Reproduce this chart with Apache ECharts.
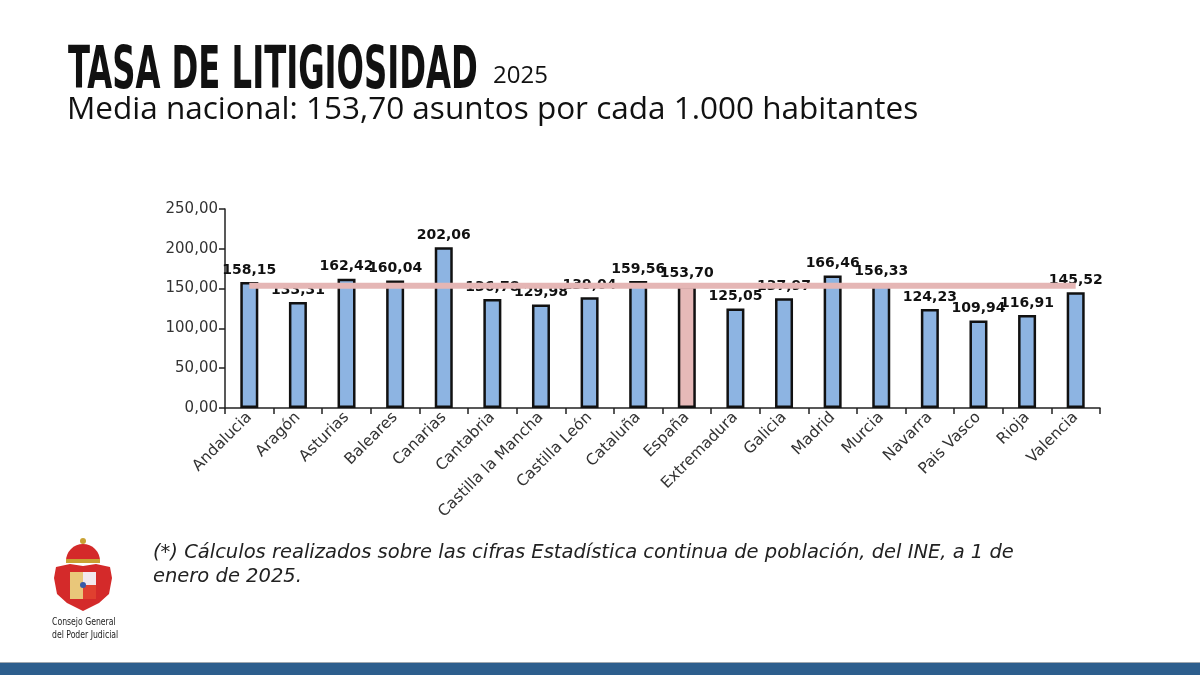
<!DOCTYPE html>
<html lang="es">
<head>
  <meta charset="utf-8">
</head>
<body style="height: 100%; margin: 0; background: #fff">
  <div id="container" style="width: 1200px; height: 675px"></div>
  <script src="https://cdn.jsdelivr.net/npm/echarts@6/dist/echarts.min.js"></script>
  <script>
    // regiones y tasa por cada 1.000 habitantes (2025)
    var regiones = ['Andalucia', 'Aragón', 'Asturias', 'Baleares', 'Canarias', 'Cantabria',
      'Castilla la Mancha', 'Castilla León', 'Cataluña', 'España', 'Extremadura', 'Galicia',
      'Madrid', 'Murcia', 'Navarra', 'Pais Vasco', 'Rioja', 'Valencia'];
    var tasas = [158.15, 133.31, 162.42, 160.04, 202.06, 136.78, 129.98, 139.04, 159.56,
      153.70, 125.05, 137.97, 166.46, 156.33, 124.23, 109.94, 116.91, 145.52];
    var mediaNacional = 153.70;
    var destacado = 'España';

    var fmt = function (v) { return v.toFixed(2).replace('.', ','); };

    var dom = document.getElementById('container');
    var myChart = echarts.init(dom, null, { renderer: 'canvas' });

    var barData = tasas.map(function (v, i) {
      return {
        value: v,
        itemStyle: { color: regiones[i] === destacado ? '#E6B9B8' : '#8DB4E2' }
      };
    });
    var mediaData = regiones.map(function () { return mediaNacional; });

    var option = {
      animation: false,
      backgroundColor: '#fff',
      grid: { left: 225, right: 100, top: 209, bottom: 267 },
      xAxis: {
        type: 'category',
        data: regiones,
        axisLine: { lineStyle: { color: '#222', width: 1.5 } },
        axisTick: { show: true, length: 6, lineStyle: { color: '#222', width: 1.5 } },
        axisLabel: {
          rotate: 45, interval: 0, margin: 7,
          fontFamily: 'DejaVu Sans', fontSize: 15.5, color: '#333'
        }
      },
      yAxis: {
        type: 'value',
        min: 0, max: 250, interval: 50,
        axisLine: { show: true, lineStyle: { color: '#222', width: 1.5 } },
        axisTick: { show: true, length: 6, lineStyle: { color: '#222', width: 1.5 } },
        splitLine: { show: false },
        axisLabel: {
          formatter: function (v) { return fmt(v); },
          fontFamily: 'DejaVu Sans', fontSize: 15, color: '#333', margin: 7
        }
      },
      series: [
        {
          type: 'bar',
          data: barData,
          barWidth: 18,
          itemStyle: { borderColor: '#111', borderWidth: 2.5 },
          label: {
            show: true, position: 'top', distance: 5,
            formatter: function (p) { return fmt(p.value); },
            fontFamily: 'DejaVu Sans', fontWeight: 'bold', fontSize: 14, color: '#111'
          },
          z: 2
        },
        {
          type: 'line',
          data: mediaData,
          symbol: 'none',
          lineStyle: { color: '#E5B6B5', width: 6 },
          z: 3
        }
      ],
      graphic: [
        {
          type: 'text', x: 68, y: 44, scaleX: 0.618,
          style: {
            text: 'TASA DE LITIGIOSIDAD', fill: '#111',
            font: 'bold 58px "DejaVu Sans Condensed", "DejaVu Sans"'
          }
        },
        {
          type: 'text', x: 493, y: 64,
          style: { text: '2025', fill: '#111', font: '24px "Open Sans"' }
        },
        {
          type: 'text', x: 67, y: 94,
          style: {
            text: 'Media nacional: 153,70 asuntos por cada 1.000 habitantes',
            fill: '#111', font: '31.5px "Open Sans"'
          }
        },
        {
          type: 'text', x: 153, y: 541,
          style: {
            text: '(*) Cálculos realizados sobre las cifras Estadística continua de población, del INE, a 1 de\nenero de 2025.',
            fill: '#222', font: 'italic 19.5px "DejaVu Sans"', lineHeight: 24
          }
        },
        // escudo (simplificado)
        { type: 'circle', shape: { cx: 83, cy: 541, r: 3 }, style: { fill: '#C9A233' } },
        { type: 'sector', shape: { cx: 83, cy: 561, r: 17, r0: 0, startAngle: Math.PI, endAngle: 2 * Math.PI }, style: { fill: '#D42A2A' } },
        { type: 'rect', shape: { x: 66, y: 559, width: 34, height: 4 }, style: { fill: '#C9A233' } },
        {
          type: 'polygon',
          shape: { points: [[56, 567], [70, 564], [83, 566], [96, 564], [110, 567], [112, 578], [109, 594], [99, 603], [83, 611], [67, 603], [57, 594], [54, 578]] },
          style: { fill: '#D42A2A' }
        },
        { type: 'rect', shape: { x: 70, y: 572, width: 13, height: 27 }, style: { fill: '#E9C77A' } },
        { type: 'rect', shape: { x: 83, y: 572, width: 13, height: 13 }, style: { fill: '#F2E8EE' } },
        { type: 'rect', shape: { x: 83, y: 585, width: 13, height: 14 }, style: { fill: '#E0402F' } },
        { type: 'circle', shape: { cx: 83, cy: 585, r: 3 }, style: { fill: '#3A5BA8' } },
        {
          type: 'text', x: 52, y: 616, scaleX: 0.86,
          style: {
            text: 'Consejo General\ndel Poder Judicial', fill: '#222',
            font: '10px "DejaVu Sans Condensed", "DejaVu Sans"', lineHeight: 13
          }
        },
        { type: 'rect', shape: { x: 0, y: 662, width: 1200, height: 1 }, style: { fill: '#A0A8B0' } },
        { type: 'rect', shape: { x: 0, y: 663, width: 1200, height: 12 }, style: { fill: '#2D5E8D' } }
      ]
    };

    myChart.setOption(option);
    window.addEventListener('resize', myChart.resize);
  </script>
</body>
</html>
